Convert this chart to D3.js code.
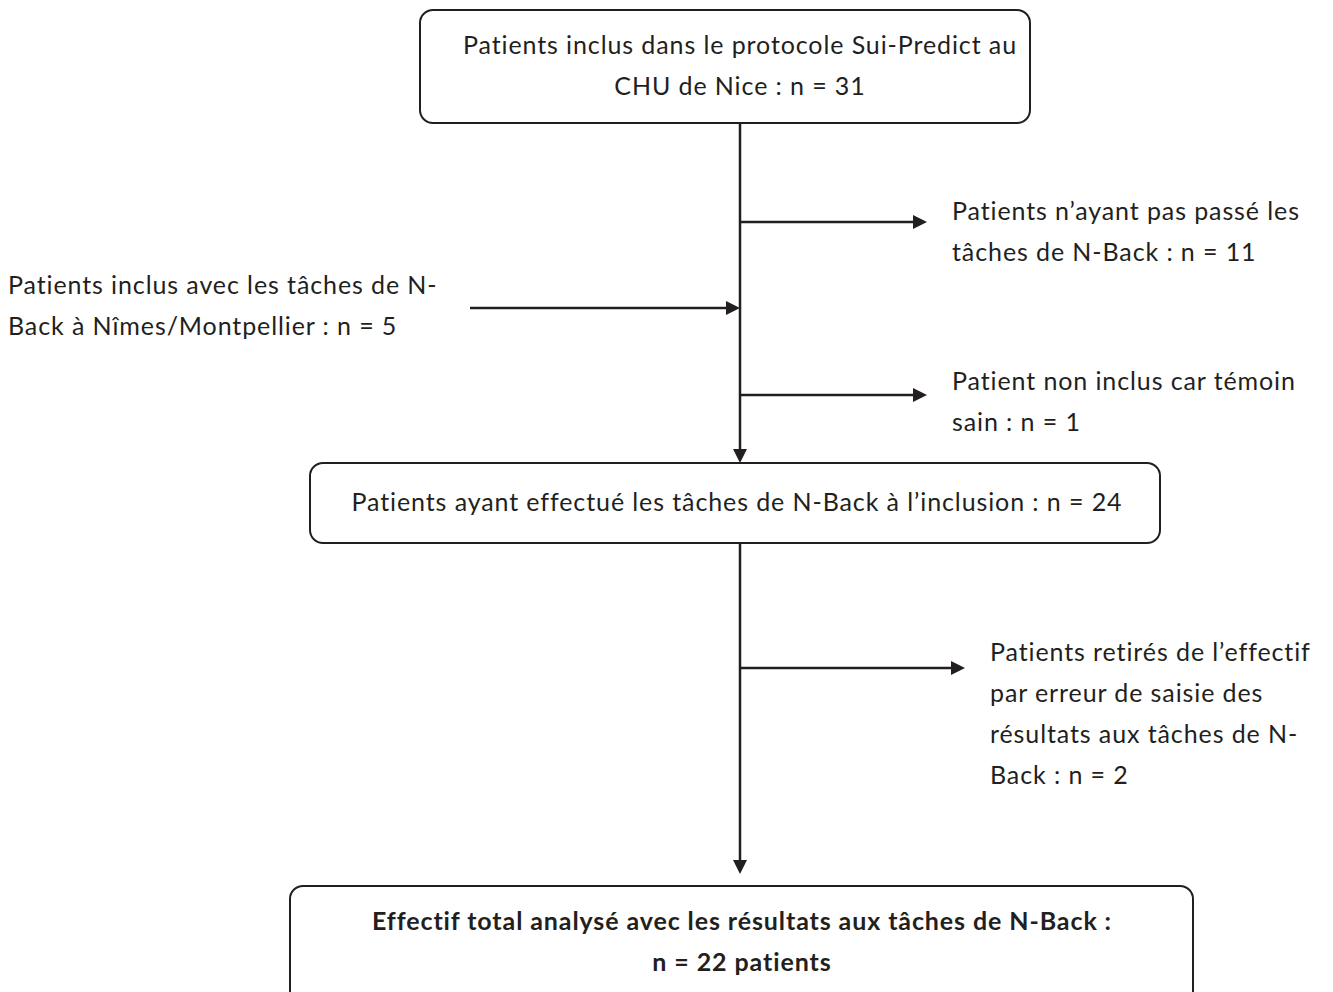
<!DOCTYPE html>
<html><head><meta charset="utf-8">
<script src="https://cdn.jsdelivr.net/npm/d3@7/dist/d3.min.js"></script>
<style>html,body{margin:0;padding:0;background:#fff;overflow:hidden}</style>
</head><body>
<svg id="c" width="1333" height="992"></svg>
<script>
// ---- content ----
const boxTop = ["Patients inclus dans le protocole Sui-Predict au", "CHU de Nice : n = 31"];
const boxMid = ["Patients ayant effectué les tâches de N-Back à l’inclusion : n = 24"];
const boxEnd = ["Effectif total analysé avec les résultats aux tâches de N-Back :", "n = 22 patients"];
const sideExcl1 = ["Patients n’ayant pas passé les", "tâches de N-Back : n = 11"];
const sideIncl = ["Patients inclus avec les tâches de N-", "Back à Nîmes/Montpellier : n = 5"];
const sideExcl2 = ["Patient non inclus car témoin", "sain : n = 1"];
const sideExcl3 = ["Patients retirés de l’effectif", "par erreur de saisie des", "résultats aux tâches de N-", "Back : n = 2"];

// ---- layout ----
const ink = "#231f20";
const fontFam = "Lato, 'Open Sans', sans-serif";
const fs = 25, lh = 41, ls = 0.9;
const svg = d3.select("#c");
const axisX = 740;

const boxes = [
  {x0:420, x1:1030, y0:10, y1:123, cx:740, base:54, lines:boxTop, bold:false},
  {x0:310, x1:1160, y0:463, y1:543, cx:737, base:511, lines:boxMid, bold:false},
  {x0:290, x1:1193, y0:886, y1:1010, cx:742, base:930, lines:boxEnd, bold:true}
];
const sides = [
  {x:952, base:220, lines:sideExcl1},
  {x:8, base:294, lines:sideIncl},
  {x:952, base:390, lines:sideExcl2},
  {x:990, base:661, lines:sideExcl3}
];
const arrows = [
  {x1:axisX, y1:123, x2:axisX, y2:463},
  {x1:axisX, y1:222, x2:927, y2:222},
  {x1:470, y1:308, x2:axisX, y2:308},
  {x1:axisX, y1:395, x2:927, y2:395},
  {x1:axisX, y1:543, x2:axisX, y2:874},
  {x1:axisX, y1:668, x2:965, y2:668}
];

const g = svg.append("g");
g.selectAll("rect.box").data(boxes).join("rect")
  .attr("class","box")
  .attr("x", d=>d.x0).attr("y", d=>d.y0)
  .attr("width", d=>d.x1-d.x0).attr("height", d=>d.y1-d.y0)
  .attr("rx", 13).attr("ry", 13)
  .attr("fill","#fff").attr("stroke", ink).attr("stroke-width", 2);

boxes.forEach(b=>{
  g.selectAll(null).data(b.lines).join("text")
    .attr("x", b.cx).attr("y", (d,i)=>b.base + i*lh)
    .attr("text-anchor","middle")
    .attr("font-family", fontFam).attr("font-size", fs)
    .attr("letter-spacing", ls)
    .attr("font-weight", b.bold?700:400)
    .attr("fill", ink).text(d=>d);
});
sides.forEach(s=>{
  g.selectAll(null).data(s.lines).join("text")
    .attr("x", s.x).attr("y", (d,i)=>s.base + i*lh)
    .attr("font-family", fontFam).attr("font-size", fs)
    .attr("letter-spacing", ls)
    .attr("fill", ink).text(d=>d);
});

const headL = 14, headW = 7;
arrows.forEach(a=>{
  const dx=a.x2-a.x1, dy=a.y2-a.y1, L=Math.hypot(dx,dy), ux=dx/L, uy=dy/L;
  const bx=a.x2-ux*headL, by=a.y2-uy*headL;
  g.append("line").attr("x1",a.x1).attr("y1",a.y1).attr("x2",bx+ux*2).attr("y2",by+uy*2)
    .attr("stroke",ink).attr("stroke-width",2.5);
  g.append("path")
    .attr("d", d3.line()([[a.x2,a.y2],[bx-uy*headW,by+ux*headW],[bx+uy*headW,by-ux*headW]])+"Z")
    .attr("fill",ink);
});
</script>
</body></html>
